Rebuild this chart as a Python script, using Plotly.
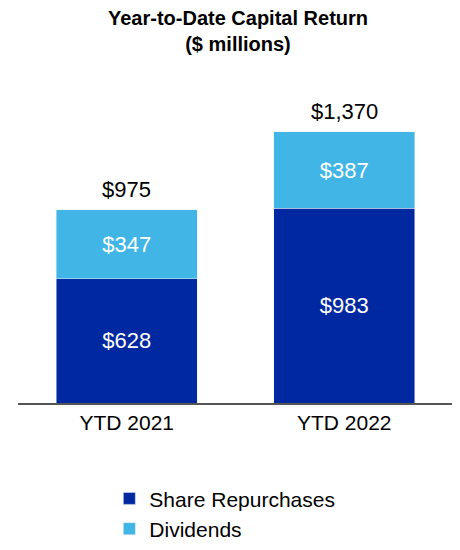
import plotly.graph_objects as go

categories = ["YTD 2021", "YTD 2022"]
repurchases = [628, 983]
dividends = [347, 387]
totals = [975, 1370]

font = "Liberation Sans, Arial, sans-serif"
fig = go.Figure()
fig.add_bar(x=categories, y=repurchases, name="Share Repurchases", marker_color="#0028A0",
            text=[f"${v:,}" for v in repurchases], textposition="inside", insidetextanchor="middle",
            textfont=dict(color="white", size=22, family=font))
fig.add_bar(x=categories, y=dividends, name="Dividends", marker_color="#41B6E6",
            text=[f"${v:,}" for v in dividends], textposition="inside", insidetextanchor="middle",
            textfont=dict(color="white", size=22, family=font))
for c, t in zip(categories, totals):
    fig.add_annotation(x=c, y=t, text=f"${t:,}", showarrow=False, yanchor="bottom", yshift=6,
                       font=dict(size=22, color="black", family=font))
fig.update_layout(
    width=460, height=550, barmode="stack", bargap=0.35,
    paper_bgcolor="white", plot_bgcolor="white",
    margin=dict(l=10, r=15, t=100, b=155, autoexpand=False),
    title=dict(text="<b>Year-to-Date Capital Return<br>($ millions)</b>", x=0.5, xanchor="center",
               yref="container", y=0.97, yanchor="top", font=dict(size=20, color="black", family=font)),
    font=dict(family=font, color="black"),
    xaxis=dict(showline=True, linecolor="#555", linewidth=1.5, tickfont=dict(size=21), ticks=""),
    yaxis=dict(visible=False, range=[0, 1490]),
    legend=dict(orientation="v", x=0.21, y=-0.255, xanchor="left", yanchor="top",
                font=dict(size=21), traceorder="normal", itemwidth=30, tracegroupgap=0),
)
fig.write_html("out.html")
